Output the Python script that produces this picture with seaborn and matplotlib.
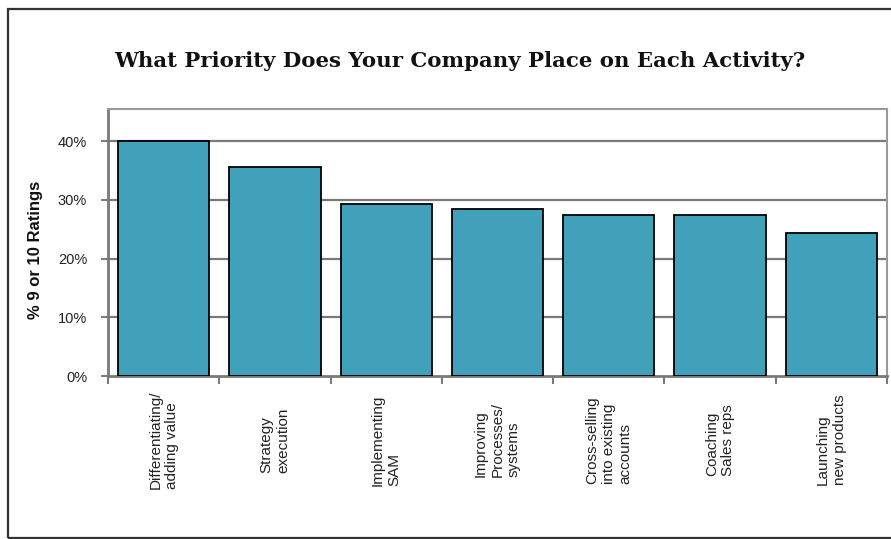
import matplotlib
matplotlib.use("Agg")
import matplotlib.pyplot as plt
import matplotlib.patches as mpatches
import seaborn as sns
import numpy as np

categories = [
    "Differentiating/\nadding value",
    "Strategy\nexecution",
    "Implementing\nSAM",
    "Improving\nProcesses/\nsystems",
    "Cross-selling\ninto existing\naccounts",
    "Coaching\nSales reps",
    "Launching\nnew products",
]
values = [40.0, 35.5, 29.3, 28.4, 27.4, 27.4, 24.4]
yticks = [0, 10, 20, 30, 40]
ytick_labels = ["0%", "10%", "20%", "30%", "40%"]
title = "What Priority Does Your Company Place on Each Activity?"
ylabel = "% 9 or 10 Ratings"

sns.set_theme(style="white")
plt.rcParams["font.family"] = ["Liberation Sans", "DejaVu Sans"]

W, H = 891, 539
fig = plt.figure(figsize=(W / 100, H / 100), dpi=100)
ax = fig.add_axes([108 / W, 1 - 376 / H, (887 - 108) / W, (376 - 109.3) / H])

bar_color = "#41A1BA"
sns.barplot(x=list(range(len(values))), y=values, color=bar_color, edgecolor="black",
            linewidth=1.3, width=0.82, ax=ax, zorder=3, saturation=1)

ax.set_xlim(-0.5, len(values) - 0.5)
ax.set_ylim(0, 45.4)

# grid
for t in yticks[1:]:
    ax.axhline(t, color="#7a7a7a", lw=1.6, zorder=1)

ax.set_yticks(yticks)
ax.set_yticklabels(ytick_labels, fontsize=10.5, color="#222222")
ax.tick_params(axis="y", which="major", direction="out", length=5, width=1.5,
               color="#7a7a7a", pad=10, left=True)

# x ticks: marks at boundaries, labels at centers
ax.set_xticks(np.arange(-0.5, len(values), 1.0))
ax.set_xticklabels([])
ax.tick_params(axis="x", which="major", direction="out", length=6, width=1.5,
               color="#7a7a7a", bottom=True)
ax.set_xticks(np.arange(len(values)), minor=True)
ax.set_xticklabels(categories, minor=True, rotation=90, fontsize=11, color="#222222",
                   va="center", ha="center", multialignment="left", linespacing=1.22)
ax.tick_params(axis="x", which="minor", length=0, pad=46)
ax.set_xlabel("")

for side in ["left", "bottom"]:
    ax.spines[side].set_color("#7a7a7a")
    ax.spines[side].set_linewidth(2)
for side in ["top", "right"]:
    ax.spines[side].set_color("#9a9a9a")
    ax.spines[side].set_linewidth(1.5)
    ax.spines[side].set_visible(True)

ax.set_ylabel(ylabel, fontsize=12, fontweight="bold", color="#111111")
ax.yaxis.set_label_coords((43 - 108) / (887 - 108), (376 - 250) / (376 - 109.3))

fig.text(460 / W, 1 - 61 / H, title, ha="center", va="center",
         fontsize=15.3, fontweight="bold", family=["DejaVu Serif"], color="#111111")

# outer frame
fig.patches.append(mpatches.Rectangle((8 / W, 1 / H), 1.2, 1 - 10 / H,
                                      transform=fig.transFigure, fill=False,
                                      edgecolor="#333333", lw=1.6))

fig.savefig("out.png", dpi=100)
